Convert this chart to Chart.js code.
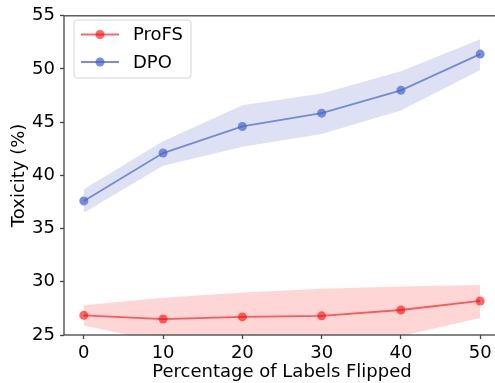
<!DOCTYPE html>
<html>
<head>
<meta charset="utf-8">
<script src="https://cdn.jsdelivr.net/npm/chart.js@4.4.1/dist/chart.umd.min.js"></script>
<style>
  html, body { margin: 0; padding: 0; background: #fff; overflow: hidden; }
  #wrap { width: 505px; height: 383px; }
</style>
</head>
<body>
<div id="wrap"><canvas id="chart"></canvas></div>
<script>
// ---- data ----
const xValues = [0, 10, 20, 30, 40, 50];
const xTicks = [0, 10, 20, 30, 40, 50];
const yTicks = [25, 30, 35, 40, 45, 50, 55];

const profsMean = [26.85, 26.5, 26.7, 26.8, 27.35, 28.2];
const profsUpper = [27.8, 28.5, 29.0, 29.35, 29.55, 29.7];
const profsLower = [25.9, 24.3, 24.2, 24.2, 24.9, 26.6];

const dpoMean = [37.6, 42.1, 44.6, 45.85, 48.0, 51.4];
const dpoUpper = [38.7, 43.2, 46.6, 47.7, 49.8, 52.8];
const dpoLower = [36.5, 40.9, 42.7, 43.9, 46.1, 49.9];

const FONT = "'DejaVu Sans', sans-serif";
const FS = 18;
const RED = 'rgba(255, 0, 0, 0.6)';
const RED_BAND = 'rgba(255, 0, 0, 0.16)';
const BLUE = 'rgba(60, 95, 205, 0.7)';
const BLUE_BAND = 'rgba(100, 120, 200, 0.22)';
const SPINE = '#444';

const pts = (ys) => xValues.map((x, i) => ({ x, y: ys[i] }));

function band(ys, color, fill) {
  return {
    data: pts(ys),
    borderWidth: 0,
    pointRadius: 0,
    backgroundColor: color,
    fill,
    inLegend: false,
  };
}

function line(label, ys, color) {
  return {
    label,
    data: pts(ys),
    borderColor: color,
    backgroundColor: color,
    borderWidth: 1.8,
    pointRadius: 4.5,
    pointBorderWidth: 0,
    fill: false,
    inLegend: true,
  };
}

// axes frame (left/top/bottom spines)
const spines = {
  id: 'spines',
  afterDraw(chart) {
    const { ctx, chartArea: a } = chart;
    ctx.save();
    ctx.strokeStyle = SPINE;
    ctx.lineWidth = 1.3;
    ctx.strokeRect(a.left, a.top, a.right - a.left, a.bottom - a.top);
    ctx.restore();
  },
};

// matplotlib-like legend box
const mplLegend = {
  id: 'mplLegend',
  afterDraw(chart) {
    const { ctx } = chart;
    const items = chart.data.datasets.filter(d => d.inLegend);
    const x = 74, y = 20, w = 117, h = 58;
    ctx.save();
    ctx.beginPath();
    ctx.roundRect(x, y, w, h, 3);
    ctx.fillStyle = 'rgba(255,255,255,0.85)';
    ctx.fill();
    ctx.strokeStyle = '#d6d6d6';
    ctx.lineWidth = 1;
    ctx.stroke();
    ctx.font = FS + 'px ' + FONT;
    ctx.textBaseline = 'middle';
    items.forEach((d, i) => {
      const cy = y + 14.5 + i * 27.5;
      ctx.strokeStyle = d.borderColor;
      ctx.lineWidth = 1.8;
      ctx.beginPath();
      ctx.moveTo(81, cy);
      ctx.lineTo(119, cy);
      ctx.stroke();
      ctx.fillStyle = d.borderColor;
      ctx.beginPath();
      ctx.arc(100, cy, 4.5, 0, Math.PI * 2);
      ctx.fill();
      ctx.fillStyle = '#000';
      ctx.fillText(d.label, 133, cy + 1);
    });
    ctx.restore();
  },
};

new Chart(document.getElementById('chart'), {
  type: 'line',
  data: {
    datasets: [
      band(profsUpper, RED_BAND, false),
      band(profsLower, RED_BAND, '-1'),
      band(dpoUpper, BLUE_BAND, false),
      band(dpoLower, BLUE_BAND, '-1'),
      line('ProFS', profsMean, RED),
      line('DPO', dpoMean, BLUE),
    ],
  },
  options: {
    responsive: true,
    maintainAspectRatio: false,
    animation: false,
    layout: { padding: { top: 11, right: 5, left: 0, bottom: 0 } },
    plugins: {
      legend: { display: false },
      tooltip: { enabled: false },
    },
    scales: {
      x: {
        type: 'linear',
        min: -2.5,
        max: 52.5,
        afterBuildTicks: (s) => { s.ticks = xTicks.map(v => ({ value: v })); },
        afterFit: (s) => { s.height = 48; },
        grid: { drawOnChartArea: false, tickLength: 4, tickColor: SPINE, tickWidth: 1.3 },
        border: { display: false },
        ticks: { color: '#000', font: { family: FONT, size: FS }, padding: 4, maxRotation: 0 },
        title: {
          display: true,
          text: 'Percentage of Labels Flipped',
          color: '#000',
          font: { family: FONT, size: FS },
          padding: { top: 0, bottom: 0 },
        },
      },
      y: {
        min: 25,
        max: 55,
        afterBuildTicks: (s) => { s.ticks = yTicks.map(v => ({ value: v })); },
        afterFit: (s) => { s.width = 64; },
        grid: { drawOnChartArea: false, tickLength: 4, tickColor: SPINE, tickWidth: 1.3 },
        border: { display: false },
        ticks: { color: '#000', font: { family: FONT, size: FS }, padding: 5 },
        title: {
          display: true,
          text: 'Toxicity (%)',
          color: '#000',
          font: { family: FONT, size: FS },
          padding: { top: 9, bottom: 0 },
        },
      },
    },
  },
  plugins: [spines, mplLegend],
});
</script>
</body>
</html>
